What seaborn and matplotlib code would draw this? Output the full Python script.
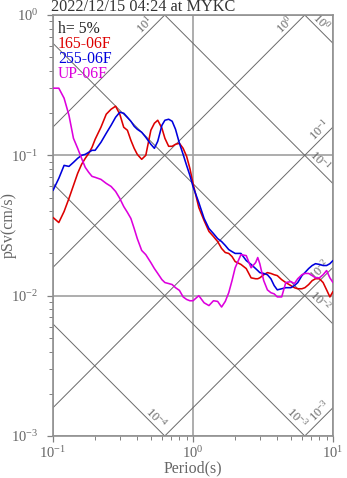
import numpy as np
import pandas as pd
import matplotlib
matplotlib.use("Agg")
import matplotlib.pyplot as plt
import seaborn as sns
from matplotlib.ticker import NullFormatter

# ---------------- data ----------------
title_text = "2022/12/15 04:24 at MYKC"
damping_text = "h= 5%"
series_names = ["165-06F", "255-06F", "UP-06F"]
series_colors = ["#dd0000", "#0000dd", "#dd00dd"]

periods = [0.10, 0.11, 0.12, 0.13, 0.14, 0.15, 0.16, 0.17, 0.18, 0.19, 0.20,
           0.22, 0.24, 0.26, 0.28, 0.30, 0.32, 0.34, 0.36, 0.38, 0.40,
           0.43, 0.46, 0.50, 0.53, 0.56, 0.60, 0.63, 0.67, 0.71, 0.75, 0.80, 0.85, 0.90, 0.95,
           1.0, 1.1, 1.2, 1.3, 1.4, 1.5, 1.6, 1.7, 1.8, 1.9, 2.0,
           2.2, 2.4, 2.6, 2.8, 2.9, 3.0,
           3.2, 3.4, 3.6, 3.8, 4.0,
           4.3, 4.6, 5.0, 5.3, 5.6, 6.0, 6.3, 6.7, 7.1, 7.5, 8.0, 8.5, 9.0, 9.5, 10.0]

sv_165 = [0.0361, 0.0332, 0.0398, 0.0493, 0.0610, 0.0744, 0.0862, 0.0952, 0.1033, 0.1141, 0.1301,
          0.1585, 0.1963, 0.2131, 0.2239, 0.1963, 0.1585, 0.1509, 0.1280, 0.1122, 0.1016,
          0.0937, 0.1000, 0.1509, 0.1693, 0.1778, 0.1559, 0.1322, 0.1160, 0.1160, 0.1199, 0.1218, 0.1122, 0.0984, 0.0807,
          0.0631, 0.0425, 0.0343, 0.0287, 0.0264, 0.0243, 0.0217, 0.0203, 0.0200, 0.0190, 0.0175,
          0.0167, 0.0156, 0.0134, 0.0132, 0.0132, 0.0134,
          0.0141, 0.0146, 0.0144, 0.0141, 0.0139,
          0.0130, 0.0124, 0.0118, 0.0114, 0.0112, 0.0112, 0.0114, 0.0120, 0.0128, 0.0132, 0.0132, 0.0124, 0.0110, 0.0098, 0.0107]

sv_255 = [0.0562, 0.0685, 0.0848, 0.0834, 0.0891, 0.0952, 0.1000, 0.1016, 0.1051, 0.1086, 0.1086,
          0.1238, 0.1436, 0.1638, 0.1868, 0.2028, 0.1995, 0.1868, 0.1749, 0.1611, 0.1534,
          0.1460, 0.1345, 0.1199, 0.1122, 0.1259, 0.1638, 0.1778, 0.1808, 0.1749, 0.1534, 0.1218, 0.1016, 0.0848, 0.0720,
          0.0600, 0.0461, 0.0355, 0.0301, 0.0277, 0.0255, 0.0243, 0.0228, 0.0213, 0.0206, 0.0200,
          0.0200, 0.0178, 0.0167, 0.0156, 0.0151, 0.0146,
          0.0144, 0.0141, 0.0132, 0.0118, 0.0110,
          0.0112, 0.0114, 0.0114, 0.0118, 0.0124, 0.0139, 0.0146, 0.0156, 0.0164, 0.0169, 0.0167, 0.0164, 0.0164, 0.0169, 0.0178]

sv_up = [0.3010, 0.3010, 0.2554, 0.1931, 0.1322, 0.1122, 0.0952, 0.0821, 0.0756, 0.0708, 0.0697,
         0.0674, 0.0631, 0.0600, 0.0553, 0.0493, 0.0432, 0.0392, 0.0355, 0.0301, 0.0255,
         0.0210, 0.0196, 0.0172, 0.0156, 0.0144, 0.0130, 0.0124, 0.0122, 0.0120, 0.0114, 0.0109, 0.0098, 0.0094, 0.0092,
         0.0092, 0.0100, 0.0089, 0.0085, 0.0092, 0.0091, 0.0083, 0.0091, 0.0105, 0.0128, 0.0158,
         0.0196, 0.0193, 0.0158, 0.0172, 0.0187, 0.0169,
         0.0128, 0.0110, 0.0105, 0.0103, 0.0098,
         0.0098, 0.0124, 0.0126, 0.0122, 0.0132, 0.0141, 0.0144, 0.0144, 0.0139, 0.0134, 0.0134, 0.0141, 0.0151, 0.0134, 0.0124]

# tripartite levels
sd_levels = [1e0, 1e-1, 1e-2, 1e-3, 1e-4]      # displacement (cm)
sd_labels = ["0", "-1", "-2", "-3", "-4"]
sa_levels = [1e1, 1e0, 1e-1, 1e-2, 1e-3]       # acceleration (cm/s^2)
sa_labels = ["1", "0", "-1", "-2", "-3"]

x_range = (0.1, 10.0)
y_range = (1e-3, 1.0)

# ---------------- style ----------------
sns.set_theme(style="white")
plt.rcParams.update({
    "font.family": ["Liberation Serif", "DejaVu Serif"],
    "mathtext.fontset": "custom",
    "mathtext.rm": "Liberation Serif",
    "mathtext.it": "Liberation Serif:italic",
    "mathtext.bf": "Liberation Serif:bold",
})

fig = plt.figure(figsize=(3.47, 4.78), dpi=100)
ax = fig.add_axes([53 / 347, 1 - 436 / 478, 280 / 347, 421 / 478])

df = pd.concat([
    pd.DataFrame({"Period": periods, "pSv": vals, "Component": name})
    for name, vals in zip(series_names, [sv_165, sv_255, sv_up])
], ignore_index=True)

ax.set_xscale("log")
ax.set_yscale("log")

# tripartite grid lines
T = np.logspace(-1, 1, 200)
grey_line = "#6a6a6a"
for sd in sd_levels:
    ax.plot(T, 2 * np.pi * sd / T, color=grey_line, lw=0.7, zorder=1)
for sa in sa_levels:
    ax.plot(T, sa * T / (2 * np.pi), color=grey_line, lw=0.7, zorder=1)

sns.lineplot(data=df, x="Period", y="pSv", hue="Component",
             palette=dict(zip(series_names, series_colors)),
             hue_order=series_names, sort=False, estimator=None,
             legend=False, lw=1.15, ax=ax, zorder=3)

ax.set_xlim(*x_range)
ax.set_ylim(*y_range)

# labels of diagonal lines
lab_kw = dict(fontsize=9, color="#666666", rotation_mode="anchor",
              ha="right", va="bottom", zorder=2)
px_dec = 140.0
for sd, lab in zip(sd_levels, sd_labels):
    sv_end = 2 * np.pi * sd / x_range[1]
    if sv_end >= y_range[0]:
        t_end, back = x_range[1], 10
    else:
        t_end, back = 2 * np.pi * sd / y_range[0], 5
    t_l = t_end * 10 ** (-back / px_dec)
    ax.text(t_l, 2 * np.pi * sd / t_l, r"$\mathdefault{10^{%s}}$" % lab,
            rotation=-45, **lab_kw)
for sa, lab in zip(sa_levels, sa_labels):
    sv_end = sa * x_range[1] / (2 * np.pi)
    if sv_end <= y_range[1]:
        t_end, back = x_range[1], 0
    else:
        t_end, back = 2 * np.pi * y_range[1] / sa, 8
    t_l = t_end * 10 ** (-back / px_dec)
    ax.text(t_l, sa * t_l / (2 * np.pi), r"$\mathdefault{10^{%s}}$" % lab,
            rotation=45, **lab_kw)

# grid, spines, ticks
ax.grid(True, which="major", color="#a0a0a0", lw=1.2, zorder=0)
ax.set_axisbelow(True)
for sp in ax.spines.values():
    sp.set_color("#909090")
    sp.set_linewidth(1.2)
ax.tick_params(which="both", direction="out", bottom=True, left=True,
               top=False, right=False, color="#808080", labelcolor="#666666")
ax.tick_params(which="major", length=4.5, width=0.9, labelsize=10.5)
ax.tick_params(which="minor", length=3, width=0.7)
ax.tick_params(axis="y", which="major", pad=6)
ax.tick_params(axis="x", which="major", pad=2)
ax.xaxis.set_minor_formatter(NullFormatter())
ax.yaxis.set_minor_formatter(NullFormatter())

ax.set_xlabel("Period(s)", fontsize=11.5, color="#666666")
ax.xaxis.set_label_coords(0.5, -(472 - 436) / 421)
ax.xaxis.label.set_va("baseline")
ax.set_ylabel("pSv(cm/s)", fontsize=11.5, color="#666666")
ax.yaxis.set_label_coords(-(53 - 17) / 280, 0.5)

# title and legend-like texts
fig.text(51 / 347, 1 - 11 / 478, title_text, fontsize=11.7, color="#333333",
         ha="left", va="baseline")
legend_texts = [damping_text] + series_names
legend_colors = ["#222222"] + series_colors
for i, (txt, col) in enumerate(zip(legend_texts, legend_colors)):
    fig.text(58 / 347, 1 - (33 + 15 * i) / 478, txt, fontsize=11.3, color=col,
             ha="left", va="baseline")

fig.savefig("out.png", dpi=100)
